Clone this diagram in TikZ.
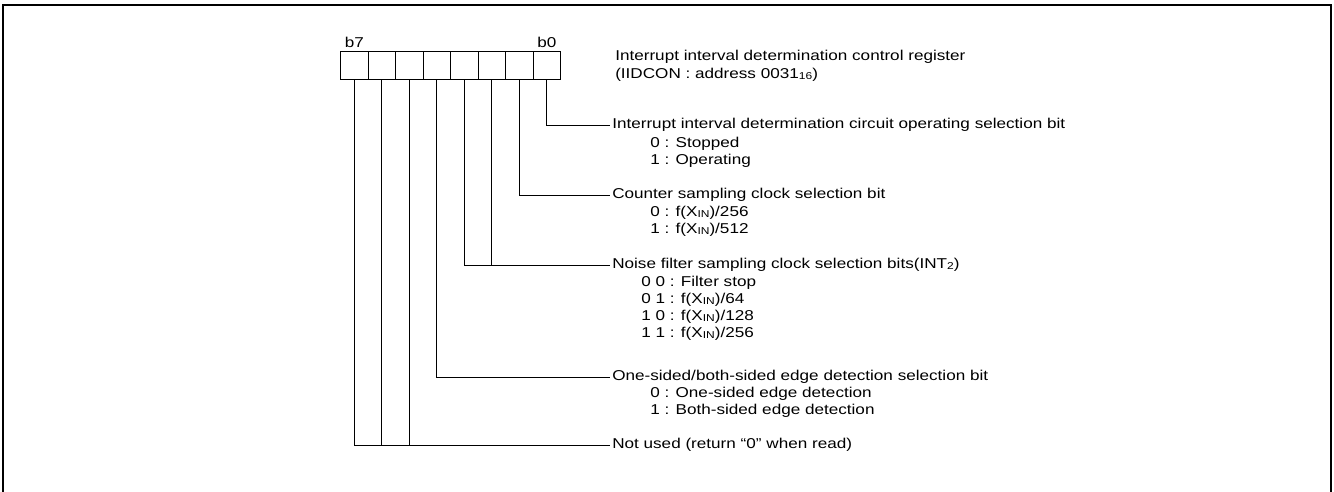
\documentclass[tikz,border=0pt]{standalone}
\usepackage{fontspec}
\setmainfont[FakeStretch=1.2]{Liberation Sans}
\usepackage{tikz}
\usetikzlibrary{positioning}
\newcommand{\lsub}[1]{\raisebox{-0.15ex}{\fontsize{7.5}{8}\selectfont #1}}

\begin{document}
\begin{tikzpicture}[
  x=0.75pt,y=-0.75pt,
  every node/.style={font=\fontsize{10.7}{12}\selectfont},
  cell/.style={draw,line width=0.6pt,minimum width=20.6pt,minimum height=21.4pt,inner sep=0pt},
  txt/.style={anchor=west,inner xsep=1.5pt,inner ysep=0pt,text height=7.6pt,text depth=2pt},
  lead/.style={line width=0.6pt}
]
  \useasboundingbox (0,0) rectangle (1334,492);
  \draw[line width=1.6pt] (3,492) -- (3,5) -- (1331,5) -- (1331,492);

  % register cells b7 ... b0
  \foreach \b [count=\i from 0] in {7,6,5,4,3,2,1,0}
    \node[cell] (c\b) at ({354.3+27.5*\i},65.3) {};
  \node[above=1pt of c7,inner sep=1pt] (lb7) {b7};
  \node[above=1pt of c0,inner sep=1pt] (lb0) {b0};

  \node[txt] (title) at (613,57) {Interrupt interval determination control register};
  \node[txt] (addr) at (613,75) {(IIDCON : address 0031\lsub{16})};

  % bit 0
  \node[txt] (t0) at (610,125) {Interrupt interval determination circuit operating selection bit};
  \node[txt] (t0a) at (648,144) {0 : Stopped};
  \node[txt] (t0b) at (648,161) {1 : Operating};
  % bit 1
  \node[txt] (t1) at (610,195) {Counter sampling clock selection bit};
  \node[txt] (t1a) at (648,213) {0 : f(X\lsub{IN})/256};
  \node[txt] (t1b) at (648,230) {1 : f(X\lsub{IN})/512};
  % bits 3,2
  \node[txt] (t23) at (610,265) {Noise filter sampling clock selection bits(INT\lsub{2})};
  \node[txt] (t23a) at (639,283) {0 0 : Filter stop};
  \node[txt] (t23b) at (639,300) {0 1 : f(X\lsub{IN})/64};
  \node[txt] (t23c) at (639,317) {1 0 : f(X\lsub{IN})/128};
  \node[txt] (t23d) at (639,334) {1 1 : f(X\lsub{IN})/256};
  % bit 4
  \node[txt] (t4) at (610,377) {One-sided/both-sided edge detection selection bit};
  \node[txt] (t4a) at (648,394) {0 : One-sided edge detection};
  \node[txt] (t4b) at (648,411) {1 : Both-sided edge detection};
  % bits 7,6,5
  \node[txt] (t57) at (610,445) {Not used (return “0” when read)};

  \draw[lead] (c0.south) |- (t0.west);
  \draw[lead] (c1.south) |- (t1.west);
  \draw[lead] (c3.south) |- (t23.west);
  \draw[lead] (c2.south) -- (c2.south |- t23.west);
  \draw[lead] (c4.south) |- (t4.west);
  \draw[lead] (c7.south) |- (t57.west);
  \draw[lead] (c6.south) -- (c6.south |- t57.west);
  \draw[lead] (c5.south) -- (c5.south |- t57.west);
\end{tikzpicture}
\end{document}
